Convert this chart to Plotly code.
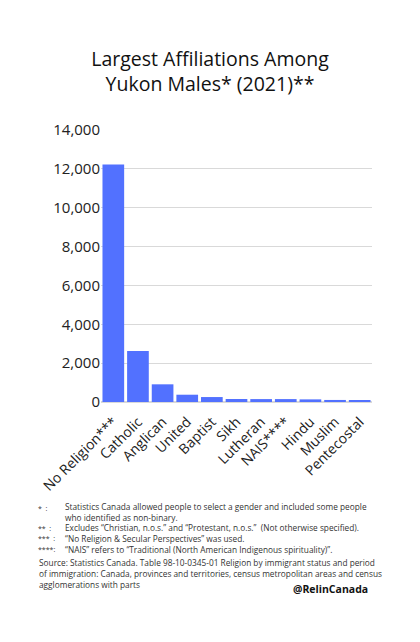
import plotly.graph_objects as go

categories = ["No Religion***", "Catholic", "Anglican", "United", "Baptist", "Sikh",
              "Lutheran", "NAIS****", "Hindu", "Muslim", "Pentecostal"]
values = [12220, 2620, 910, 375, 255, 155, 150, 150, 135, 105, 100]
y_ticks = [0, 2000, 4000, 6000, 8000, 10000, 12000, 14000]

W, H = 420, 642
L, R, T, B = 101, 48, 130, 240
PW, PH = W - L - R, H - T - B

def px(x):
    return (x - L) / PW

def py(y):
    return (H - B - y) / PH

fig = go.Figure(go.Bar(x=categories, y=values, marker=dict(color="#5271FF", line=dict(width=0)),
                       width=0.88))

fig.update_layout(
    width=W, height=H,
    margin=dict(l=L, r=R, t=T, b=B),
    paper_bgcolor="white", plot_bgcolor="white",
    font=dict(family="Open Sans", color="#222222"),
    showlegend=False,
    title=dict(text="Largest Affiliations Among<br>Yukon Males* (2021)**",
               x=0.5, xanchor="center", y=1 - 66 / H, yanchor="middle",
               font=dict(size=19.5, color="#111111", family="Open Sans")),
    xaxis=dict(tickangle=-45, tickfont=dict(size=14, color="#222222"), showgrid=False,
               showline=False, ticks="", ticklabelstandoff=8),
    yaxis=dict(range=[0, 14000], tickvals=y_ticks, tickformat=",",
               tickfont=dict(size=15, color="#222222"), gridcolor="#d9d9d9", gridwidth=1,
               zeroline=True, zerolinecolor="#d9d9d9", showline=False, ticks="", ticklen=0),
)

markers = [(36, 508, "*  :"), (36, 528, "**  :"), (36, 538.5, "***  :"), (36, 549, "****:")]
notes = [
    (63, 511.5, "Statistics Canada allowed people to select a gender and included some people"
                "<br>who identified as non-binary."),
    (63, 538.5, "Excludes “Christian, n.o.s.” and “Protestant, n.o.s.”  (Not otherwise specified)."
                "<br>“No Religion & Secular Perspectives” was used."
                "<br>“NAIS” refers to “Traditional (North American Indigenous spirituality)”."),
    (37, 573, "Source: Statistics Canada. Table 98-10-0345-01 Religion by immigrant status and period"
              "<br>of immigration: Canada, provinces and territories, census metropolitan areas and census"
              "<br>agglomerations with parts"),
]
for x, y, t in markers:
    fig.add_annotation(x=px(x), y=py(y), xref="paper", yref="paper", text=t, showarrow=False,
                       xanchor="left", yanchor="middle",
                       font=dict(size=7, color="#333333", family="Open Sans"))
for x, y, t in notes:
    fig.add_annotation(x=px(x), y=py(y), xref="paper", yref="paper", text=t, showarrow=False,
                       xanchor="left", yanchor="middle", align="left",
                       font=dict(size=8.3, color="#333333", family="Open Sans"))

fig.add_annotation(x=px(370), y=py(589), xref="paper", yref="paper", text="<b>@RelinCanada</b>",
                   showarrow=False, xanchor="right", yanchor="middle",
                   font=dict(size=10.5, color="#111111", family="Open Sans"))

fig.write_html("out.html")
